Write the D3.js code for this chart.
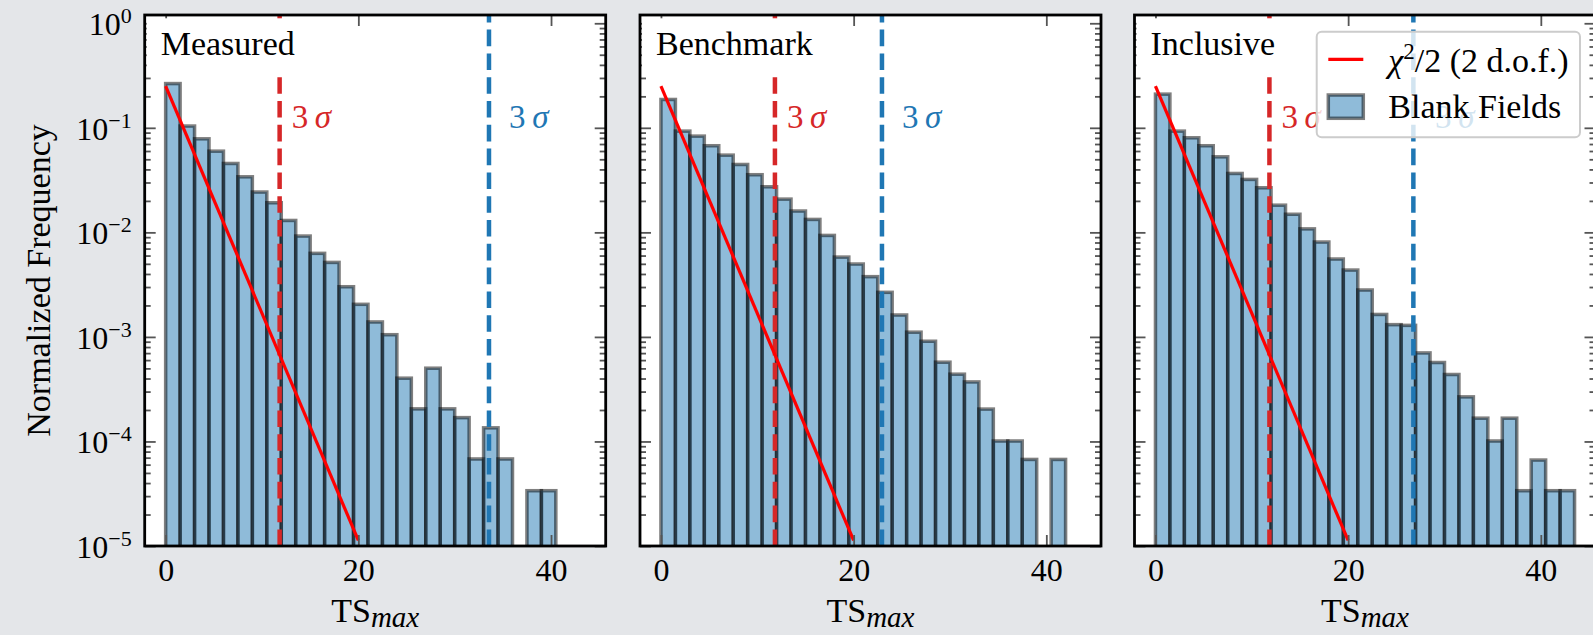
<!DOCTYPE html>
<html>
<head>
<meta charset="utf-8">
<script src="https://cdn.jsdelivr.net/npm/d3@7"></script>
<style>
  html, body { margin: 0; padding: 0; background: #e4e6e9; }
  svg { display: block; }
</style>
</head>
<body>
<svg id="chart" width="1593" height="635" font-family="'Liberation Serif', 'Times New Roman', serif"></svg>
<script>
// ---------------- data ----------------
const binWidth = 1.5;
const panelNames = ["Measured", "Benchmark", "Inclusive"];
const measured = [0.265, 0.104, 0.0785, 0.0598, 0.0456, 0.034, 0.0243, 0.0192, 0.0130, 0.00922,
  0.0063, 0.00516, 0.00302, 0.00205, 0.00139, 0.00105, 0.000403, 0.000205, 0.000502, 0.000205,
  0.000169, 6.8e-5, 0.000135, 6.8e-5, 0, 3.38e-5, 3.38e-5];
const benchmark = [0.1867, 0.0930, 0.0833, 0.0674, 0.0548, 0.0446, 0.0356, 0.0273, 0.0208, 0.0160,
  0.0133, 0.00935, 0.00580, 0.00498, 0.00377, 0.00267, 0.00162, 0.00111, 0.000909, 0.000573,
  0.000440, 0.000371, 0.000204, 0.000101, 0.000101, 6.73e-5, 0, 6.73e-5];
const inclusive = [0.210, 0.0930, 0.0803, 0.0674, 0.0528, 0.0366, 0.0321, 0.0267, 0.0182, 0.0149,
  0.0108, 0.00808, 0.00556, 0.00436, 0.00281, 0.00164, 0.00131, 0.00129, 0.000703, 0.000569,
  0.000437, 0.000267, 0.000167, 0.000101, 0.000167, 3.38e-5, 6.64e-5, 3.38e-5, 3.38e-5];
const chiX = [0, 20];
const chiY = [0.25, 1.13e-5];
const red3sigma = 11.83;
const blue3sigma = [33.56, 22.94, 26.77];
const redLabelX = 13.08;
const blueLabelX = [35.64, 25.02, 29.02];
const sigmaLabelY = 0.1;
const xTicks = [0, 20, 40];
const yMajor = [1e-5, 1e-4, 1e-3, 1e-2, 1e-1, 1];
const yExp = ["−5", "−4", "−3", "−2", "−1", "0"];
const legendLabels = ["χ", "2", "/2 (2 d.o.f.)", "Blank Fields"];
const xLabelMain = "TS", xLabelSub = "max";
const yLabel = "Normalized Frequency";
const series = [measured, benchmark, inclusive];

// ---------------- layout ----------------
const svg = d3.select("#chart");
const W = 1593, H = 635;
const panelLeft = [144.7, 640, 1134.5];
const panelW = 461;
const plotTop = 15, plotBottom = 546;
const xDomain = [-2.175, 45.675];
const yDomain = [1e-5, 1.2];

const barFill = "rgba(31,119,180,0.5)";
const barStroke = "rgba(0,0,0,0.5)";
const tabRed = "#d62728", tabBlue = "#1f77b4";
const tickColor = "#555";

const minors = [];
for (let k = -5; k <= 0; k++) {
  for (let m = 2; m <= 9; m++) {
    const v = m * Math.pow(10, k);
    if (v <= yDomain[1]) minors.push(v);
  }
}

svg.append("rect").attr("width", W).attr("height", H).attr("fill", "#e4e6e9");

series.forEach((data, p) => {
  const L = panelLeft[p], R = L + panelW;
  const x = d3.scaleLinear().domain(xDomain).range([L, R]);
  const y = d3.scaleLog().domain(yDomain).range([plotBottom, plotTop]);
  const g = svg.append("g");

  const clipId = "clip" + p;
  svg.append("defs").append("clipPath").attr("id", clipId)
    .append("rect").attr("x", L).attr("y", plotTop).attr("width", panelW).attr("height", plotBottom - plotTop);

  g.append("rect").attr("x", L).attr("y", plotTop).attr("width", panelW).attr("height", plotBottom - plotTop)
    .attr("fill", "#ffffff");

  const plot = g.append("g").attr("clip-path", `url(#${clipId})`);

  plot.selectAll("rect.bar")
    .data(data.map((v, i) => ({ v, i })).filter(d => d.v > 0))
    .join("rect").attr("class", "bar")
    .attr("x", d => x(d.i * binWidth))
    .attr("width", d => x((d.i + 1) * binWidth) - x(d.i * binWidth))
    .attr("y", d => y(d.v))
    .attr("height", d => plotBottom + 20 - y(d.v))
    .attr("fill", barFill)
    .attr("stroke", barStroke)
    .attr("stroke-width", 3.5);

  const vline = (xv, color) => plot.append("line")
    .attr("x1", x(xv)).attr("x2", x(xv))
    .attr("y1", plotBottom).attr("y2", plotTop)
    .attr("stroke", color).attr("stroke-width", 4.5)
    .attr("stroke-dasharray", "16.6 7.2");
  vline(red3sigma, tabRed);
  vline(blue3sigma[p], tabBlue);

  const line = d3.line().x(d => x(d[0])).y(d => y(d[1]));
  plot.append("path").datum(chiX.map((xv, i) => [xv, chiY[i]]))
    .attr("d", line).attr("fill", "none").attr("stroke", "#ff0000").attr("stroke-width", 3.2);

  const styleAxis = sel => {
    sel.select(".domain").remove();
    sel.attr("font-family", null).attr("font-size", null);
    sel.selectAll(".tick line").attr("stroke", tickColor).attr("stroke-width", 1.8);
  };
  g.append("g").attr("transform", `translate(0,${plotBottom})`)
    .call(d3.axisBottom(x).tickValues(xTicks).tickSize(-11).tickFormat(d3.format("d")))
    .call(styleAxis)
    .call(s => s.selectAll("text").attr("dy", null).attr("y", 34.5)
      .attr("font-size", 32).attr("fill", "#000"));
  g.append("g").attr("transform", `translate(0,${plotTop})`)
    .call(d3.axisTop(x).tickValues(xTicks).tickSize(-11).tickFormat(""))
    .call(styleAxis);
  [[d3.axisLeft, L], [d3.axisRight, R]].forEach(([ax, pos]) => {
    g.append("g").attr("transform", `translate(${pos},0)`)
      .call(ax(y).tickValues(yMajor).tickSize(-11).tickFormat(""))
      .call(styleAxis);
    g.append("g").attr("transform", `translate(${pos},0)`)
      .call(ax(y).tickValues(minors).tickSize(-6).tickFormat(""))
      .call(styleAxis);
  });

  const lab = g.append("text").attr("x", L + 16).attr("y", plotTop + 40)
    .attr("font-size", 34).attr("fill", "#000").text(panelNames[p]);
  const bb = lab.node().getBBox();
  g.insert("rect", () => lab.node())
    .attr("x", bb.x - 14).attr("y", plotTop + 3.3)
    .attr("width", bb.width + 28).attr("height", 55)
    .attr("fill", "#ffffff");

  const sig = (xv, color) => {
    const t = g.append("text").attr("x", x(xv)).attr("y", y(sigmaLabelY))
      .attr("font-size", 33).attr("fill", color);
    t.append("tspan").text("3\u2009");
    t.append("tspan").attr("font-style", "italic").text("σ");
  };
  sig(redLabelX, tabRed);
  sig(blueLabelX[p], tabBlue);

  if (p === 0) {
    yMajor.forEach((v, i) => {
      const t = g.append("text").attr("x", L - 13).attr("y", y(v) + 12)
        .attr("text-anchor", "end").attr("font-size", 32).attr("fill", "#000");
      t.append("tspan").text("10");
      t.append("tspan").attr("dy", -12).attr("font-size", 22).text(yExp[i]);
    });
    svg.append("text").attr("transform", `translate(50,${(plotTop + plotBottom) / 2}) rotate(-90)`)
      .attr("text-anchor", "middle").attr("font-size", 34).attr("fill", "#000").text(yLabel);
  }

  const xl = g.append("text").attr("x", (L + R) / 2).attr("y", plotBottom + 75.7)
    .attr("text-anchor", "middle").attr("font-size", 34).attr("fill", "#000");
  xl.append("tspan").text(xLabelMain);
  xl.append("tspan").attr("font-style", "italic").attr("font-size", 29).attr("dy", 5).text(xLabelSub);

  if (p === 2) {
    const lg = g.append("g");
    lg.append("rect").attr("x", L + 182.2).attr("y", 31.7).attr("width", 263.3).attr("height", 105.6)
      .attr("rx", 5).attr("fill", "rgba(255,255,255,0.8)").attr("stroke", "#cccccc").attr("stroke-width", 2);
    lg.append("line").attr("x1", L + 193.8).attr("x2", L + 228.8).attr("y1", 59.3).attr("y2", 59.3)
      .attr("stroke", "#ff0000").attr("stroke-width", 3.2);
    const t1 = lg.append("text").attr("x", L + 253.8).attr("y", 71.7).attr("font-size", 34).attr("fill", "#000");
    t1.append("tspan").attr("font-style", "italic").text(legendLabels[0]);
    t1.append("tspan").attr("dy", -13).attr("font-size", 23).text(legendLabels[1]);
    t1.append("tspan").attr("dy", 13).text(legendLabels[2]);
    lg.append("rect").attr("x", L + 193.8).attr("y", 95).attr("width", 35).attr("height", 23.3)
      .attr("fill", barFill).attr("stroke", barStroke).attr("stroke-width", 3.5);
    lg.append("text").attr("x", L + 253.8).attr("y", 118.3).attr("font-size", 34).attr("fill", "#000")
      .text(legendLabels[3]);
  }

  g.append("rect").attr("x", L).attr("y", plotTop).attr("width", panelW).attr("height", plotBottom - plotTop)
    .attr("fill", "none").attr("stroke", "#000").attr("stroke-width", 2.8);
});
</script>
</body>
</html>
